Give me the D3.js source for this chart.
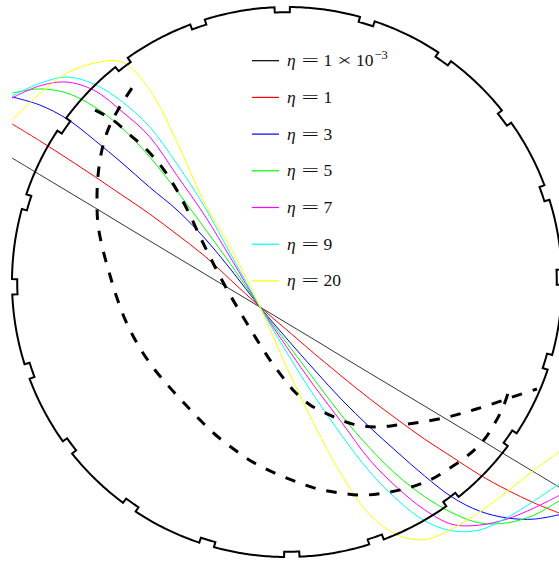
<!DOCTYPE html>
<html>
<head>
<meta charset="utf-8">
<script src="https://cdn.jsdelivr.net/npm/d3@7"></script>
<style>
  html, body { margin: 0; padding: 0; background: #fff; }
  svg { display: block; }
</style>
</head>
<body>
<svg id="chart" width="559" height="561"></svg>
<script>
// Abscissa shared by every eta curve, in units of the disc radius
const xGrid = [-1.0, -0.9, -0.8, -0.7, -0.6, -0.5, -0.4, -0.3, -0.2, -0.1, 0.0,
                0.1,  0.2,  0.3,  0.4,  0.5,  0.6,  0.7,  0.8,  0.9, 1.0];

// Legend labels, in drawing order
const etaValues = ["1e-3", "1", "3", "5", "7", "9", "20"];
const etaColors = ["#000000", "#ff0000", "#0000ff", "#00ff00", "#ff00ff", "#00ffff", "#ffff00"];

// Profiles y(x) for each eta, sampled on xGrid
const yEta1e3 = [0.451, 0.391, 0.331, 0.271, 0.210, 0.150, 0.090, 0.030, -0.030, -0.090, -0.150,
                 -0.210, -0.271, -0.331, -0.391, -0.451, -0.511, -0.571, -0.632, -0.692, -0.752];
const yEta1   = [0.575, 0.514, 0.450, 0.384, 0.316, 0.248, 0.173, 0.095, 0.003, -0.089, -0.175,
                 -0.261, -0.344, -0.424, -0.499, -0.571, -0.636, -0.701, -0.756, -0.804, -0.844];
const yEta3   = [0.673, 0.644, 0.593, 0.516, 0.433, 0.345, 0.262, 0.160, 0.040, -0.089, -0.207,
                 -0.320, -0.429, -0.527, -0.618, -0.705, -0.782, -0.833, -0.858, -0.862, -0.844];
const yEta5   = [0.687, 0.702, 0.687, 0.637, 0.560, 0.456, 0.331, 0.196, 0.058, -0.088, -0.223,
                 -0.356, -0.487, -0.603, -0.702, -0.780, -0.839, -0.876, -0.876, -0.847, -0.789];
const yEta7   = [0.669, 0.713, 0.727, 0.696, 0.620, 0.529, 0.387, 0.243, 0.079, -0.088, -0.238,
                 -0.380, -0.512, -0.646, -0.747, -0.828, -0.881, -0.884, -0.862, -0.821, -0.771];
const yEta9   = [0.676, 0.722, 0.745, 0.719, 0.656, 0.565, 0.429, 0.274, 0.092, -0.088, -0.258,
                 -0.416, -0.559, -0.689, -0.791, -0.868, -0.905, -0.902, -0.857, -0.795, -0.727];
const yEta20  = [0.589, 0.684, 0.760, 0.796, 0.800, 0.700, 0.509, 0.288, 0.116, -0.087, -0.312,
                 -0.519, -0.704, -0.845, -0.919, -0.937, -0.898, -0.837, -0.762, -0.683, -0.611];

const etaSeries = [yEta1e3, yEta1, yEta3, yEta5, yEta7, yEta9, yEta20];

// Two dashed reference curves, as (x, y) pairs
const dashedA = [[-0.564, 0.705], [-0.615, 0.625], [-0.651, 0.553], [-0.673, 0.480], [-0.687, 0.389],
                 [-0.691, 0.298], [-0.687, 0.207], [-0.669, 0.116], [-0.647, 0.036], [-0.622, -0.047],
                 [-0.585, -0.145], [-0.535, -0.240], [-0.480, -0.320], [-0.425, -0.385], [-0.371, -0.444],
                 [-0.316, -0.502], [-0.255, -0.560], [-0.189, -0.611], [-0.124, -0.655], [-0.044, -0.695],
                 [0.036, -0.727], [0.113, -0.753], [0.193, -0.767], [0.273, -0.775], [0.356, -0.767],
                 [0.440, -0.749], [0.520, -0.720], [0.593, -0.676], [0.655, -0.633], [0.713, -0.578],
                 [0.756, -0.513], [0.789, -0.447], [0.807, -0.393]];
const dashedB = [[-0.698, 0.625], [-0.633, 0.589], [-0.571, 0.535], [-0.509, 0.480], [-0.455, 0.418],
                 [-0.407, 0.345], [-0.360, 0.258], [-0.316, 0.164], [-0.269, 0.069], [-0.215, -0.033],
                 [-0.164, -0.120], [-0.113, -0.204], [-0.069, -0.273], [-0.022, -0.338], [0.029, -0.400],
                 [0.084, -0.447], [0.156, -0.484], [0.236, -0.516], [0.320, -0.527], [0.404, -0.520],
                 [0.491, -0.509], [0.585, -0.491], [0.665, -0.469], [0.745, -0.444], [0.829, -0.415],
                 [0.909, -0.389]];

// Notched rim of the disc
const notchCount = 20;
const notchOffsetDeg = 1;
const notchHalfDeg = 1.6;
const notchDepth = 0.019;

const svg = d3.select("#chart");
const x = d3.scaleLinear().domain([-1, 1]).range([12, 562]);
const y = d3.scaleLinear().domain([-1, 1]).range([557, 7]);

const smooth = d3.line()
  .x(d => x(d[0]))
  .y(d => y(d[1]))
  .curve(d3.curveCatmullRom.alpha(0.5));

// eta curves
const curves = svg.append("g").attr("fill", "none");
etaSeries.forEach((ys, i) => {
  curves.append("path")
    .datum(xGrid.map((xv, j) => [xv, ys[j]]))
    .attr("d", smooth)
    .attr("stroke", etaColors[i])
    .attr("stroke-width", i === 0 ? 0.8 : 1);
});

// rim: arcs at full radius broken by shallow rectangular notches
const rimPts = [];
const polar = (r, deg) => [r * Math.cos(deg * Math.PI / 180), r * Math.sin(deg * Math.PI / 180)];
const pitch = 360 / notchCount;
for (let k = 0; k < notchCount; k++) {
  const c = notchOffsetDeg + k * pitch;
  const a0 = c - notchHalfDeg, a1 = c + notchHalfDeg;
  rimPts.push(polar(1, a0));
  rimPts.push(polar(1 - notchDepth, a0));
  for (let a = a0; a <= a1 + 1e-9; a += (a1 - a0) / 6) rimPts.push(polar(1 - notchDepth, a));
  rimPts.push(polar(1, a1));
  const next = c + pitch - notchHalfDeg;
  for (let a = a1 + 0.5; a < next; a += 0.5) rimPts.push(polar(1, a));
}
svg.append("path")
  .datum(rimPts)
  .attr("d", d3.line().x(d => x(d[0])).y(d => y(d[1])).curve(d3.curveLinearClosed))
  .attr("fill", "none")
  .attr("stroke", "#000")
  .attr("stroke-width", 2)
  .attr("stroke-linejoin", "miter");

// dashed curves
[dashedA, dashedB].forEach(pts => {
  svg.append("path")
    .datum(pts)
    .attr("d", smooth)
    .attr("fill", "none")
    .attr("stroke", "#000")
    .attr("stroke-width", 3)
    .attr("stroke-dasharray", "10.5,11");
});

// legend: math-style labels built from separate glyph runs
const legend = svg.append("g")
  .attr("font-family", "'Liberation Serif', 'Times New Roman', serif")
  .attr("font-size", 17.5)
  .attr("fill", "#111");
const rowY0 = 60.7, rowStep = 36.7;
etaValues.forEach((v, i) => {
  const ry = rowY0 + i * rowStep;
  const base = ry + 5.5;
  legend.append("line")
    .attr("x1", 252).attr("x2", 279)
    .attr("y1", ry).attr("y2", ry)
    .attr("stroke", etaColors[i])
    .attr("stroke-width", 1.2);
  legend.append("text").attr("x", 287).attr("y", base)
    .attr("font-style", "italic").text("η");
  legend.append("text").attr("x", 301.5).attr("y", base)
    .attr("textLength", 17.5).attr("lengthAdjust", "spacingAndGlyphs").text("=");
  if (v === "1e-3") {
    legend.append("text").attr("x", 323.5).attr("y", base).text("1");
    legend.append("text").attr("x", 337).attr("y", base)
      .attr("textLength", 15).attr("lengthAdjust", "spacingAndGlyphs").text("×");
    legend.append("text").attr("x", 356).attr("y", base).text("10");
    legend.append("text").attr("x", 374.5).attr("y", base - 7)
      .attr("font-size", 12.5).text("−3");
  } else {
    legend.append("text").attr("x", 323.5).attr("y", base).text(v);
  }
});
</script>
</body>
</html>
